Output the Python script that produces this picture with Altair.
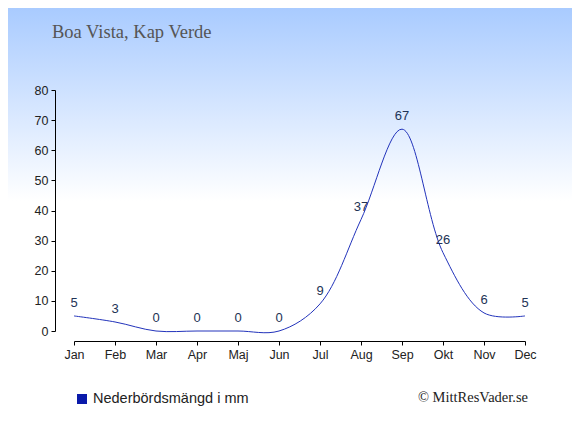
import altair as alt
import pandas as pd

months = ["Jan", "Feb", "Mar", "Apr", "Maj", "Jun", "Jul", "Aug", "Sep", "Okt", "Nov", "Dec"]
rain_mm = [5, 3, 0, 0, 0, 0, 9, 37, 67, 26, 6, 5]
y_ticks = [0, 10, 20, 30, 40, 50, 60, 70, 80]
title_text = ["Boa Vista, Kap Verde"]
legend_text = ["Nederbördsmängd i mm"]
credit_text = ["© MittResVader.se"]

W, H = 451, 241
PAD_L, PAD_T = 66, 82
TOTAL_W, TOTAL_H = 564, 419

df = pd.DataFrame({"month": months, "rain": rain_mm})

axis_style = dict(title=None, domainColor="#000", tickColor="#000", zindex=2,
                  labelFont="Liberation Sans", labelFontSize=12.5, labelColor="#222222",
                  labelOverlap=False, tickSize=4, labelPadding=3)

x_enc = alt.X("month:N", sort=months,
              scale=alt.Scale(type="point", padding=0),
              axis=alt.Axis(offset=10, labelAngle=0, **axis_style))
y_enc = alt.Y("rain:Q", scale=alt.Scale(domain=[0, 80], nice=False, zero=True),
              axis=alt.Axis(values=y_ticks, offset=19, grid=False, **axis_style))

bg = alt.Chart(pd.DataFrame({"a": [1]})).mark_rect(
    color=alt.Gradient(
        gradient="linear",
        stops=[alt.GradientStop(color="#a9cbff", offset=0),
               alt.GradientStop(color="#ffffff", offset=0.46),
               alt.GradientStop(color="#ffffff", offset=1)],
        x1=0, x2=0, y1=0, y2=1),
).encode(x=alt.value(-PAD_L), x2=alt.value(TOTAL_W - PAD_L),
         y=alt.value(-PAD_T), y2=alt.value(TOTAL_H - PAD_T))

line = alt.Chart(df).mark_line(color="#2233bb", strokeWidth=1,
                               interpolate="catmull-rom").encode(x=x_enc, y=y_enc)

labels = alt.Chart(df).mark_text(font="Liberation Sans", fontSize=13, color="#223355",
                                 baseline="alphabetic", dy=-9).encode(
    x=x_enc, y=y_enc, text="rain:Q")

title = alt.Chart(pd.DataFrame({"t": title_text})).mark_text(
    font="Liberation Serif", fontSize=18.5, color="#555555", align="left",
    baseline="alphabetic").encode(x=alt.value(-22), y=alt.value(-52), text="t:N")

legend_sq = alt.Chart(pd.DataFrame({"a": [1]})).mark_rect(color="#0a1aaa").encode(
    x=alt.value(3), x2=alt.value(13), y=alt.value(304), y2=alt.value(314))

legend_lbl = alt.Chart(pd.DataFrame({"t": legend_text})).mark_text(
    font="Liberation Sans", fontSize=14.5, color="#222222", align="left",
    baseline="alphabetic").encode(x=alt.value(19), y=alt.value(313), text="t:N")

credit = alt.Chart(pd.DataFrame({"t": credit_text})).mark_text(
    font="Liberation Serif", fontSize=14.5, color="#222222", align="right",
    baseline="alphabetic").encode(x=alt.value(454), y=alt.value(312), text="t:N")

chart = alt.layer(bg, line, labels, title, legend_sq, legend_lbl, credit).properties(
    width=W, height=H,
    autosize=alt.AutoSizeParams(type="none"),
    padding={"left": PAD_L, "top": PAD_T,
             "right": TOTAL_W - PAD_L - W, "bottom": TOTAL_H - PAD_T - H},
).configure_view(stroke=None).configure(background="#ffffff")

chart.save("out.html", embed_options={"renderer": "svg", "actions": False})
